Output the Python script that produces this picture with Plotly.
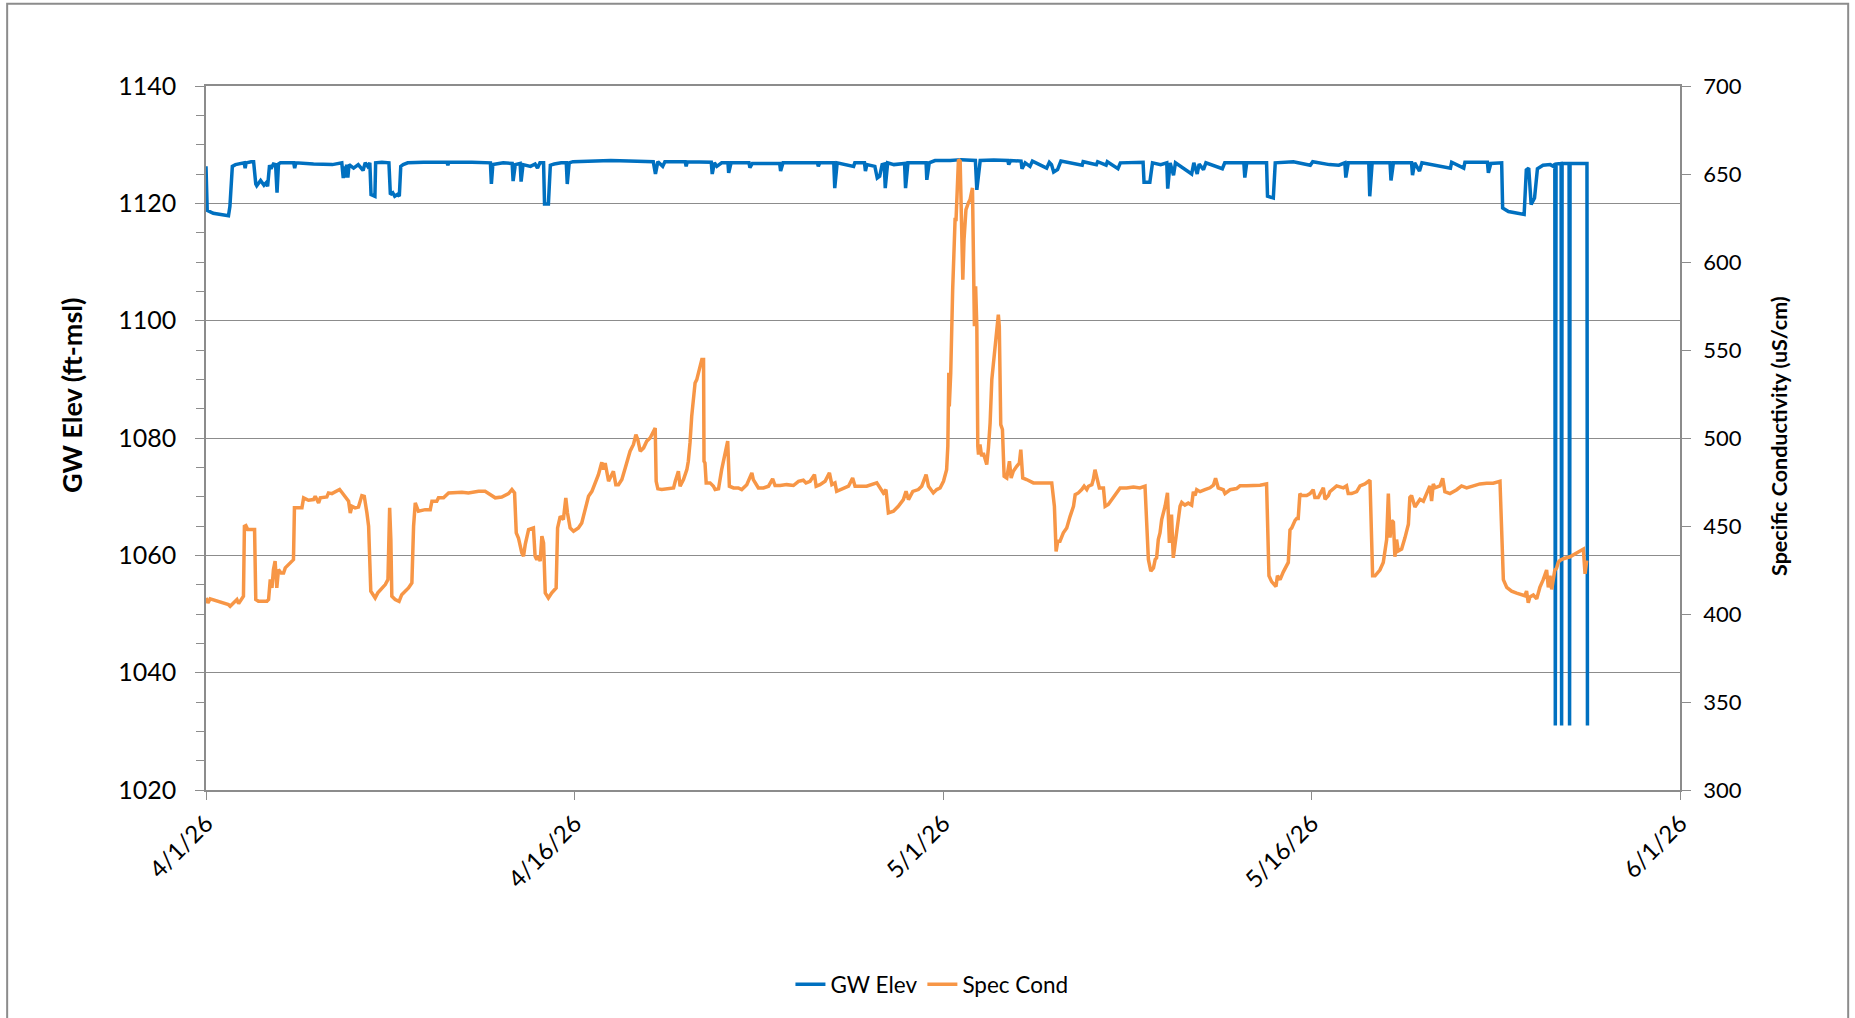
import pandas as pd
import plotly.graph_objects as go

START = pd.Timestamp("2026-04-01 00:00")

# ---- GW Elev (ft-msl): time in days since 4/1/26 00:00, value ----
gw_day = [
    0.00, 0.05, 0.30, 0.60, 0.93, 0.99, 1.09, 1.22, 1.52, 1.58, 1.62, 1.66, 1.87, 1.97,
    2.06, 2.10, 2.26, 2.40, 2.49, 2.55, 2.63, 2.69, 2.79, 2.88, 2.94, 3.00, 3.08, 3.63,
    3.67, 3.72, 4.45, 5.23, 5.62, 5.68, 5.72, 5.77, 5.82, 5.87, 5.92, 6.11, 6.30, 6.50,
    6.59, 6.69, 6.78, 6.83, 6.99, 7.02, 7.28, 7.57, 7.63, 7.73, 7.81, 7.92, 8.00, 8.06,
    8.16, 8.35, 9.00, 9.97, 10.01, 10.05, 11.00, 11.77, 11.81, 11.87, 12.30, 12.67, 12.71,
    12.80, 13.00, 13.04, 13.12, 13.43, 13.62, 13.72, 13.82, 13.97, 14.01, 14.17, 14.25,
    14.41, 14.70, 14.91, 14.95, 15.03, 15.19, 16.00, 16.75, 17.50, 18.51, 18.60, 18.70,
    18.90, 18.99, 19.83, 19.87, 19.92, 20.50, 20.91, 20.95, 21.04, 21.14, 21.34, 21.60,
    21.63, 21.73, 22.47, 22.51, 22.61, 23.74, 23.78, 23.88, 25.30, 25.34, 25.40, 25.98,
    26.02, 26.12, 26.80, 26.85, 27.25, 27.29, 27.35, 27.68, 27.78, 27.88, 27.98, 28.07,
    28.11, 28.21, 28.47, 28.91, 28.95, 29.05, 29.80, 29.83, 29.93,
    30.17, 30.80, 31.25, 31.84, 31.90, 32.04, 32.60, 33.18, 33.22, 33.30, 33.73, 33.77,
    33.90, 34.10, 34.20, 34.79, 34.90, 34.99, 35.08, 35.24, 35.38, 36.26, 36.30, 36.85,
    36.90, 37.25, 37.30, 37.74, 37.84, 38.78, 38.82, 39.06, 39.17, 39.51, 39.76, 39.80,
    39.90, 40.04, 40.12, 40.79, 40.88, 41.02, 41.10, 41.28, 41.38, 42.06, 42.16, 42.95,
    42.99, 43.07, 43.89, 43.93, 44.17, 44.25, 45.00, 45.70, 45.80, 46.49, 46.88, 47.13,
    47.17, 47.27, 48.12, 48.16, 48.26, 49.00, 49.04, 49.14, 49.89, 49.93, 50.02, 50.22,
    50.32, 51.50, 51.55, 52.05, 52.10, 53.03, 53.07, 53.17, 53.62, 53.66, 53.90, 54.30,
    54.55, 54.64, 54.74, 54.84, 54.98, 55.10, 55.33, 55.63, 55.76, 55.82, 55.84, 55.87,
    56.08, 56.10, 56.12, 56.41, 56.43, 56.45, 57.15, 57.17,
]
gw_elev = [
    1126.3, 1118.8, 1118.3, 1118.1, 1117.9, 1119.5, 1126.3, 1126.6, 1126.9, 1126.9, 1126.0, 1126.9, 1127.1, 1127.1,
    1123.3, 1123.0, 1123.9, 1123.1, 1123.5, 1122.9, 1126.5, 1125.9, 1126.7, 1126.6, 1121.8, 1126.7, 1126.9, 1126.9,
    1126.0, 1126.9, 1126.7, 1126.6, 1126.9, 1124.3, 1126.3, 1124.4, 1126.6, 1124.4, 1126.6, 1126.0, 1126.6, 1125.6,
    1126.9, 1126.3, 1126.9, 1121.5, 1121.2, 1126.9, 1127.0, 1126.9, 1121.5, 1121.8, 1121.2, 1121.5, 1121.2, 1126.3,
    1126.6, 1126.9, 1127.0, 1127.0, 1126.5, 1127.0, 1127.0, 1126.9, 1123.3, 1126.6, 1126.9, 1126.8, 1123.8,
    1126.6, 1126.8, 1123.7, 1126.6, 1126.3, 1126.7, 1126.0, 1126.9, 1126.9, 1119.9, 1119.9, 1126.5,
    1126.7, 1126.9, 1126.9, 1123.3, 1126.9, 1127.1, 1127.2, 1127.3, 1127.2, 1127.1, 1125.0, 1127.1,
    1126.3, 1127.1, 1127.1, 1126.3, 1127.1, 1127.1, 1127.0, 1125.0, 1126.9, 1126.3, 1126.9, 1126.9,
    1125.2, 1126.9, 1126.9, 1126.1, 1126.8, 1126.8, 1125.5, 1126.9, 1126.9, 1126.3, 1126.9, 1126.9,
    1122.6, 1126.9, 1126.3, 1126.9, 1126.9, 1125.5, 1126.6, 1126.3, 1124.3, 1124.6, 1126.6, 1126.7,
    1122.6, 1126.9, 1126.6, 1126.8, 1122.6, 1126.9, 1126.9, 1124.0, 1126.9,
    1127.3, 1127.3, 1127.45, 1127.3, 1122.3, 1127.3, 1127.4, 1127.3, 1126.6, 1127.3, 1127.2, 1125.9,
    1126.9, 1126.3, 1127.2, 1126.0, 1127.0, 1126.6, 1125.35, 1125.75, 1127.2, 1126.5, 1127.1, 1126.6,
    1127.1, 1126.5, 1127.1, 1125.9, 1126.9, 1127.0, 1123.6, 1123.6, 1126.9, 1126.6, 1126.9, 1122.5,
    1126.9, 1124.8, 1126.9, 1125.0, 1126.9, 1125.0, 1126.7, 1125.75, 1126.9, 1125.9, 1126.9, 1126.9,
    1124.4, 1126.9, 1126.9, 1121.2, 1120.9, 1126.9, 1127.1, 1126.5, 1127.1, 1126.6, 1126.5, 1126.9,
    1124.4, 1126.9, 1126.9, 1121.2, 1126.9, 1126.9, 1123.9, 1126.9, 1126.9, 1124.8, 1126.9, 1125.5,
    1126.9, 1126.0, 1127.0, 1126.0, 1127.0, 1127.0, 1125.2, 1126.8, 1126.9, 1119.2, 1118.6, 1118.3,
    1118.1, 1125.7, 1126.0, 1119.8, 1120.9, 1125.9, 1126.5, 1126.6, 1126.3, 1126.7, 1031.0, 1126.7,
    1126.8, 1031.0, 1126.8, 1126.8, 1031.0, 1126.8, 1126.8, 1031.0,
]

# ---- Spec Cond (uS/cm): time in days since 4/1/26 00:00, value ----
sc_day = [
    0.00, 0.08, 0.17, 0.38, 0.93, 1.00, 1.21, 1.28, 1.35, 1.48, 1.55, 1.59, 1.65, 1.73,
    2.01, 2.06, 2.17, 2.52, 2.59, 2.66, 2.73, 2.79, 2.86, 2.93, 3.00, 3.11, 3.21, 3.28,
    3.42, 3.55, 3.62, 3.66, 3.97, 4.04, 4.24, 4.45, 4.52, 4.66, 4.73, 5.00, 5.07, 5.21,
    5.35, 5.53, 5.62, 5.76, 5.90, 5.97, 6.04, 6.17, 6.31, 6.45, 6.55, 6.66, 6.73, 6.82,
    6.93, 7.00, 7.11, 7.28, 7.42, 7.53, 7.60, 7.65, 7.69, 7.83, 7.99, 8.10, 8.38, 8.52,
    8.59, 8.66, 8.79, 9.07, 9.28, 9.35, 9.55, 9.62, 9.83, 10.04, 10.31, 10.59, 10.86,
    11.28, 11.55, 11.83, 11.97, 12.24, 12.52, 12.66, 12.77, 12.84, 12.93, 13.07, 13.14,
    13.21, 13.35, 13.55, 13.62, 13.69, 13.76, 13.83, 13.90, 13.97, 14.04, 14.17, 14.31,
    14.49, 14.55, 14.66, 14.79, 14.89, 14.96, 15.07, 15.21, 15.41, 15.55, 15.69, 15.83,
    15.97, 16.10, 16.24, 16.38, 16.45, 16.52, 16.66, 16.86, 16.96, 17.07, 17.21, 17.35,
    17.48, 17.55, 17.69, 17.79, 17.87, 17.97, 18.11, 18.24, 18.38, 18.48, 18.59, 18.63,
    18.70, 18.86, 19.14, 19.35, 19.42, 19.55, 19.62,
    19.76, 19.90, 19.96, 20.03, 20.10, 20.24, 20.31, 20.38, 20.45, 20.52, 20.59, 20.61,
    20.65, 20.70, 20.86, 21.00, 21.07, 21.21, 21.34, 21.48, 21.59, 21.66, 21.83, 22.03,
    22.17, 22.38, 22.52, 22.59, 22.65, 22.86, 23.07, 23.28, 23.45, 23.55, 23.76, 24.03,
    24.31, 24.52, 24.72, 24.83, 25.00, 25.18, 25.25, 25.41, 25.62, 25.80, 25.90, 26.03,
    26.10, 26.38, 26.59, 26.76, 26.86, 27.34, 27.76, 28.03, 28.14, 28.24, 28.45, 28.65,
    28.86, 28.97, 29.07, 29.25, 29.48, 29.62, 29.80, 29.90, 30.10, 30.24, 30.38, 30.52,
    30.65, 30.70, 30.74, 30.76, 30.82, 30.90, 31.00, 31.04, 31.14, 31.21, 31.28, 31.32,
    31.37, 31.45, 31.55, 31.62, 31.72, 31.76, 31.80, 31.85, 31.90, 31.94, 31.97, 32.03,
    32.10, 32.17, 32.24, 32.31, 32.38, 32.45, 32.52, 32.65, 32.72, 32.79, 32.83, 32.89,
    32.96, 33.03, 33.14, 33.25, 33.32, 33.41, 33.55, 33.66, 33.72, 33.80, 33.96, 34.24,
    34.52, 34.79, 35.00, 35.11, 35.18, 35.25, 35.34, 35.48, 35.62, 35.76, 35.83, 35.90,
    35.97, 36.10, 36.24, 36.34, 36.45, 36.52, 36.66, 36.72, 36.79, 36.86, 36.97, 37.14,
    37.21, 37.34, 37.55, 37.69, 37.83, 38.10, 38.38, 38.65, 38.86, 38.93, 39.00, 39.10,
    39.21, 39.28, 39.34, 39.41, 39.48, 39.55, 39.62, 39.69, 39.79, 39.87, 39.92, 39.96,
    40.03, 40.10, 40.17, 40.24, 40.31,
    40.38, 40.51, 40.65, 40.79, 40.86, 40.93, 41.00, 41.14, 41.34, 41.55, 41.69, 41.78,
    41.89, 42.10, 42.17, 42.38, 42.65, 42.79, 43.07, 43.34, 43.62, 43.89, 43.94, 43.99,
    44.10, 44.28, 44.34, 44.45, 44.58, 44.79, 44.86, 44.93, 45.07, 45.14, 45.20, 45.27,
    45.34, 45.55, 45.69, 45.82, 45.89, 46.03, 46.24, 46.31, 46.45, 46.51, 46.79, 47.07,
    47.20, 47.27, 47.41, 47.62, 47.76, 47.96, 48.17, 48.28, 48.38, 48.58, 48.72, 48.83,
    48.86, 48.93, 49.00, 49.07, 49.14, 49.20, 49.27, 49.34, 49.48, 49.62, 49.76, 49.82,
    49.89, 50.03, 50.24, 50.38, 50.51, 50.65, 50.72, 50.79, 50.86, 51.07, 51.18, 51.27,
    51.48, 51.76, 51.96, 52.17, 52.45, 52.72, 53.00, 53.27, 53.55, 53.62, 53.69, 53.83,
    54.03, 54.24, 54.45, 54.58, 54.65, 54.72, 54.79, 54.93, 55.07, 55.20, 55.34, 55.48,
    55.55, 55.62, 55.69, 55.76, 55.82, 55.89, 55.96, 56.03, 56.17, 56.45, 56.58, 56.72,
    56.86, 57.00, 57.07, 57.14,
]
sc_cond = [
    409.1, 406.3, 408.6, 407.8, 405.3, 404.4, 407.2, 408.2, 405.9, 408.2, 410.1, 449.8, 450.2, 448.0,
    448.0, 408.2, 407.2, 407.2, 408.2, 419.6, 414.8, 425.2, 430.0, 414.8, 425.2, 423.3, 423.3, 426.2,
    428.1, 430.0, 430.9, 460.3, 460.3, 466.0, 464.6, 465.0, 466.9, 463.1, 466.0, 466.5, 468.8, 468.4,
    469.2, 470.7, 469.2, 466.9, 464.1, 457.4, 461.2, 460.3, 460.8, 467.3, 466.9, 457.4, 449.8, 412.9,
    411.0, 409.1, 412.0, 414.8, 416.7, 419.6, 460.3, 442.3, 410.1, 408.2, 407.2, 411.0, 414.8, 417.7,
    449.8, 463.1, 458.4, 459.3, 459.3, 464.1, 464.1, 466.0, 466.0, 468.8, 469.2, 469.2, 468.8,
    469.7, 469.7, 466.9, 466.0, 466.5, 468.4, 470.7, 468.8, 446.1, 443.2, 434.7, 432.8,
    439.4, 448.0, 448.9, 432.8, 430.9, 432.8, 430.0, 444.2, 440.4, 412.0, 409.1, 412.0,
    414.8, 448.9, 455.5, 453.6, 466.0, 457.4, 448.9, 447.0, 448.9, 451.7, 459.3, 466.9,
    469.7, 474.4, 479.2, 486.2, 482.0, 485.8, 475.4, 481.1, 473.5, 473.5, 476.4, 483.0,
    489.6, 492.5, 496.3, 501.9, 499.1, 492.5, 494.4, 498.2, 500.0, 503.3, 505.7, 475.4,
    471.1, 470.7, 471.1, 471.6, 475.4, 481.1, 472.6,
    476.4, 482.0, 486.8, 497.2, 512.3, 531.3, 533.2, 537.0, 540.8, 544.6, 544.6, 486.8,
    485.8, 474.5, 474.5, 472.6, 470.7, 471.1, 482.0, 491.5, 498.2, 472.6, 471.6, 471.6,
    470.7, 473.5, 477.3, 480.2, 476.4, 471.6, 471.6, 472.6, 476.8, 473.0, 473.0, 473.5,
    473.0, 475.4, 476.0, 474.5, 475.4, 479.2, 472.6, 473.5, 475.4, 480.2, 473.5, 474.5,
    469.7, 471.6, 472.6, 477.3, 472.6, 472.6, 474.5, 468.8, 470.7, 457.4, 458.4, 461.2,
    465.0, 469.7, 465.0, 469.7, 470.7, 472.6, 479.2, 472.6, 468.8, 470.7, 471.6, 475.4,
    482.0, 495.3, 537.0, 518.0, 537.0, 584.3, 624.1, 624.1, 658.2, 657.2, 620.3, 590.0,
    612.7, 629.8, 633.6, 635.5, 642.1, 584.3, 563.5, 586.2, 563.5, 495.3, 490.6, 496.3,
    489.6, 491.5, 487.7, 484.9, 494.4, 508.6, 533.2, 552.1, 561.6, 570.1, 563.5, 507.6,
    504.8, 478.3, 477.3, 486.8, 477.3, 481.1, 483.9, 485.8, 493.4, 477.3, 476.4, 474.5,
    474.5, 474.5, 474.5, 461.2, 435.6, 441.3, 441.3, 446.1, 448.9, 455.5, 459.3, 461.2,
    467.8, 468.8, 470.7, 472.6, 470.7, 472.6, 473.5, 476.4, 482.0, 478.3, 471.6, 471.6,
    461.2, 462.2, 466.0, 468.8, 471.6, 471.6, 472.2, 471.6, 472.6, 451.7, 430.9, 424.3,
    426.2, 430.9, 431.9, 442.3, 446.1, 453.6, 457.4, 461.2, 468.8, 440.4, 455.5, 455.5,
    431.9, 438.5, 446.1, 451.7, 461.2,
    463.4, 461.9, 463.0, 461.9, 469.5, 467.3, 470.6, 469.5, 470.6, 471.7, 473.2, 477.1,
    471.7, 470.6, 468.4, 470.6, 471.3, 472.8, 472.8, 472.8, 473.2, 473.9, 441.2, 421.7,
    418.4, 415.6, 421.7, 419.5, 423.8, 429.3, 447.8, 448.9, 453.2, 454.3, 454.3, 468.4,
    467.3, 467.3, 468.4, 470.6, 466.2, 466.2, 471.7, 465.2, 467.3, 469.5, 472.8, 471.7,
    472.8, 468.4, 468.4, 469.5, 472.8, 473.9, 476.0, 421.7, 421.7, 425.0, 429.3, 438.0,
    442.3, 468.4, 443.4, 453.2, 452.1, 432.5, 442.3, 435.8, 436.9, 443.4, 451.0, 466.2,
    467.3, 460.8, 465.2, 464.1, 468.4, 472.8, 464.1, 473.9, 471.7, 472.8, 477.1, 469.5,
    468.4, 470.6, 472.8, 471.7, 472.8, 473.9, 474.3, 474.3, 475.4, 441.2, 419.5, 415.1,
    413.0, 411.9, 411.2, 410.4, 413.0, 406.4, 409.7, 410.8, 408.6, 415.1, 419.5, 425.0,
    415.1, 421.7, 414.0, 419.5, 425.0, 426.0, 429.3, 430.4, 431.4, 432.5, 433.6, 434.7,
    435.8, 436.9, 422.8, 430.4,
]

# ---- x axis ticks (days since 4/1/26) and labels ----
x_tick_days = [0, 15.25, 30.5, 45.75, 61]
x_tick_labels = ["4/1/26", "4/16/26", "5/1/26", "5/16/26", "6/1/26"]

to_time = lambda days: START + pd.to_timedelta(days, unit="D")

gw_x = to_time(gw_day)
sc_x = to_time(sc_day)
tick_x = to_time(x_tick_days)

GRID = "#8C8C8C"
FONT = "Lato, 'Open Sans', sans-serif"

fig = go.Figure()
fig.add_trace(go.Scatter(x=gw_x, y=gw_elev, name="GW Elev", mode="lines",
                         line=dict(color="#0070C0", width=3.5)))
fig.add_trace(go.Scatter(x=sc_x, y=sc_cond, name="Spec Cond", mode="lines",
                         line=dict(color="#F79646", width=3.5), yaxis="y2"))

fig.update_layout(
    width=1855, height=1018,
    margin=dict(l=206, r=175, t=86, b=228),
    paper_bgcolor="white", plot_bgcolor="white",
    font=dict(family=FONT, color="black"),
    showlegend=True,
    xaxis=dict(
        type="date", range=[tick_x[0], tick_x[-1]],
        tickmode="array", tickvals=list(tick_x), ticktext=x_tick_labels,
        tickangle=-45, ticks="outside", ticklen=8, tickcolor=GRID, tickwidth=1.3,
        showline=True, linecolor=GRID, linewidth=1.5, mirror=True,
        showgrid=False, zeroline=False, tickfont=dict(size=24),
    ),
    yaxis=dict(
        range=[1020, 1140], tick0=1020, dtick=20,
        ticks="outside", ticklen=9, tickcolor=GRID, tickwidth=1.3,
        showline=True, linecolor=GRID, linewidth=1.5,
        showgrid=True, gridcolor=GRID, gridwidth=1.3, zeroline=False,
        tickfont=dict(size=25), ticklabelstandoff=14,
        minor=dict(dtick=5, tick0=1020, ticks="outside", ticklen=8,
                   tickcolor=GRID, tickwidth=1.3, showgrid=False),
    ),
    yaxis2=dict(
        overlaying="y", side="right", range=[300, 700], tick0=300, dtick=50,
        ticks="outside", ticklen=9, tickcolor=GRID, tickwidth=1.3,
        showline=True, linecolor=GRID, linewidth=1.5,
        showgrid=False, zeroline=False, tickfont=dict(size=22),
        ticklabelstandoff=8,
    ),
    legend=dict(orientation="h", x=0.4925, xanchor="center", y=-0.2766,
                yanchor="middle", font=dict(size=22.5), bgcolor="rgba(0,0,0,0)"),
    annotations=[
        dict(text="<b>GW Elev (ft-msl)</b>", xref="paper", yref="paper",
             x=-0.0908, y=0.560, textangle=-90, showarrow=False,
             xanchor="center", yanchor="middle", font=dict(size=27)),
        dict(text="<b>Specific Conductivity (uS/cm)</b>", xref="paper", yref="paper",
             x=1.0672, y=0.503, textangle=-90, showarrow=False,
             xanchor="center", yanchor="middle", font=dict(size=21.5)),
    ],
    shapes=[
        dict(type="rect", xref="paper", yref="paper",
             x0=-0.1349, x1=1.1141, y0=-0.34, y1=1.117,
             line=dict(color=GRID, width=2), fillcolor="rgba(0,0,0,0)", layer="below"),
    ],
)

fig.write_html(
    "out.html",
    config={"displayModeBar": False},
    post_script="document.body.style.margin='0';document.body.style.overflow='hidden';",
)
